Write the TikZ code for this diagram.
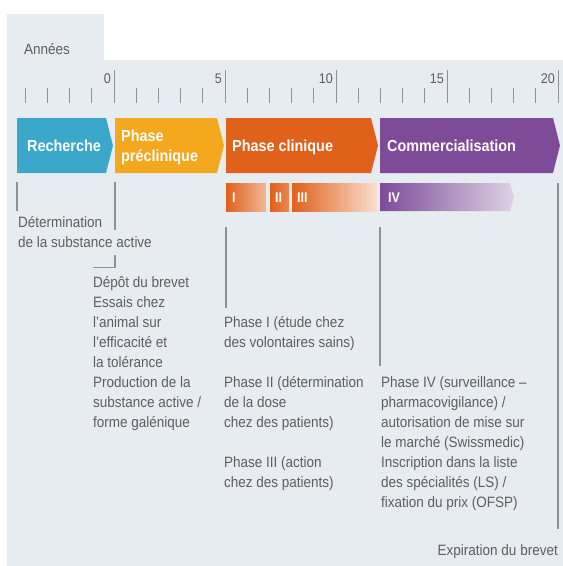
\documentclass[tikz,border=0pt]{standalone}
\usepackage{fontspec}
\setmainfont{Liberation Sans}[FakeStretch=0.9]
\usepackage{xcolor}
\usepackage{tikz}

\definecolor{panel}{HTML}{E7ECF1}
\definecolor{txtgray}{HTML}{5E5E5E}
\definecolor{linegray}{HTML}{8E9296}
\definecolor{recblue}{HTML}{3AA7CB}
\definecolor{preyellow}{HTML}{F4A81D}
\definecolor{clinorange}{HTML}{E0611A}
\definecolor{compurple}{HTML}{7D4B98}

\tikzset{
    txt/.style={inner sep=0, align=left, text=txtgray, font=\fontsize{15}{20}\selectfont},
    head/.style={inner sep=0, align=left, text=white, font=\fontsize{16}{20}\selectfont\bfseries},
    barlabel/.style={inner sep=0, text=white, font=\fontsize{14}{16}\selectfont\bfseries},
    conn/.style={draw=linegray, line width=1.1pt},
    tick/.style={draw=linegray, line width=1pt},
}

\begin{document}
\begin{tikzpicture}[x=1pt, y=-1pt]
    \useasboundingbox (0,0) rectangle (563,566);
    \fill[white] (0,0) rectangle (563,566);

    % panel with tab
    \fill[panel] (7,60) rectangle (563,566);
    \fill[panel] (7,14) rectangle (104,60);
    \node[txt, anchor=base west] (annees) at (24,54) {Années};

    % years
    \foreach \k in {-4,...,20} {
        \pgfmathsetmacro{\xk}{114+22.2*\k}
        \pgfmathtruncatemacro{\m}{mod(\k+20,5)}
        \ifnum\m=0
            \draw[tick] (\xk,70) -- (\xk,103);
        \else
            \draw[tick] (\xk,88) -- (\xk,103);
        \fi
    }
    \foreach \k in {0,5,...,20}
        \node[txt, font=\fontsize{14}{16}\selectfont, anchor=base east] (yr\k) at ({111+22.2*\k},83) {\k};

    % phases
    \foreach \a/\b/\c in {17/113/recblue, 115/224/preyellow, 226/378/clinorange, 380/560/compurple}
        \fill[\c] (\a,118) -- ({\b-7},118) -- (\b,145.5) -- ({\b-7},173) -- (\a,173) -- cycle;
    \node[head, anchor=base west] (rech) at (27,151.5) {Recherche};
    \node[head, anchor=base west] (precl) at (121,161) {Phase\\préclinique};
    \node[head, anchor=base west] (clin) at (232,151.5) {Phase clinique};
    \node[head, anchor=base west] (comm) at (387,151.5) {Commercialisation};

    % clinical phases and phase IV
    \shade[left color=clinorange, right color=clinorange!45!white] (226,183) rectangle (266,211);
    \shade[left color=clinorange, right color=clinorange!75!white] (270,183) rectangle (289,211);
    \shade[left color=clinorange, right color=clinorange!20!white] (292,183) rectangle (377,211);
    \shade[left color=compurple, right color=compurple!25!white] (380,183) -- (510,183) -- (514,197) -- (510,211) -- (380,211) -- cycle;
    \node[barlabel, anchor=base west] (bI) at (232,202) {I};
    \node[barlabel, anchor=base west] (bII) at (275,202) {II};
    \node[barlabel, anchor=base west] (bIII) at (297,202) {III};
    \node[barlabel, anchor=base west] (bIV) at (388,202) {IV};

    % texts (base = last line)
    \node[txt, anchor=base west] (determ) at (18,247) {Détermination\\de la substance active};
    \node[txt, anchor=base west] (depot) at (93,427) {Dépôt du brevet\\Essais chez\\l’animal sur\\l’efficacité et\\la tolérance\\Production de la\\substance active /\\forme galénique};
    \node[txt, anchor=base west] (ph1txt) at (224,347) {Phase I (étude chez\\des volontaires sains)};
    \node[txt, anchor=base west] (ph2txt) at (224,427) {Phase II (détermination\\de la dose\\chez des patients)};
    \node[txt, anchor=base west] (ph3txt) at (224,487) {Phase III (action\\chez des patients)};
    \node[txt, anchor=base west] (ph4txt) at (381,507) {Phase IV (surveillance –\\pharmacovigilance) /\\autorisation de mise sur\\le marché (Swissmedic)\\Inscription dans la liste\\des spécialités (LS) /\\fixation du prix (OFSP)};
    \node[txt, anchor=base east] (expir) at (558,555) {Expiration du brevet};

    % lines
    \coordinate (rectop) at (17,182);
    \coordinate (pretop) at (115,182);
    \coordinate (prebot) at (115,230);
    \coordinate (prehook) at (115,255);
    \coordinate (clintop) at (226,227);
    \coordinate (commtop) at (380,227);
    \coordinate (exptop) at (558,183);
    \draw[conn, shorten >=5pt] (rectop) -- (rectop |- determ.north);
    \draw[conn] (pretop) -- (prebot);
    \draw[conn] (prehook) |- ([yshift=8pt]depot.north west);
    \draw[conn, shorten >=8pt] (clintop) -- (clintop |- ph1txt.north);
    \draw[conn, shorten >=10pt] (commtop) -- (commtop |- ph4txt.north);
    \draw[conn, shorten >=15pt] (exptop) -- (exptop |- expir.north);
\end{tikzpicture}
\end{document}
